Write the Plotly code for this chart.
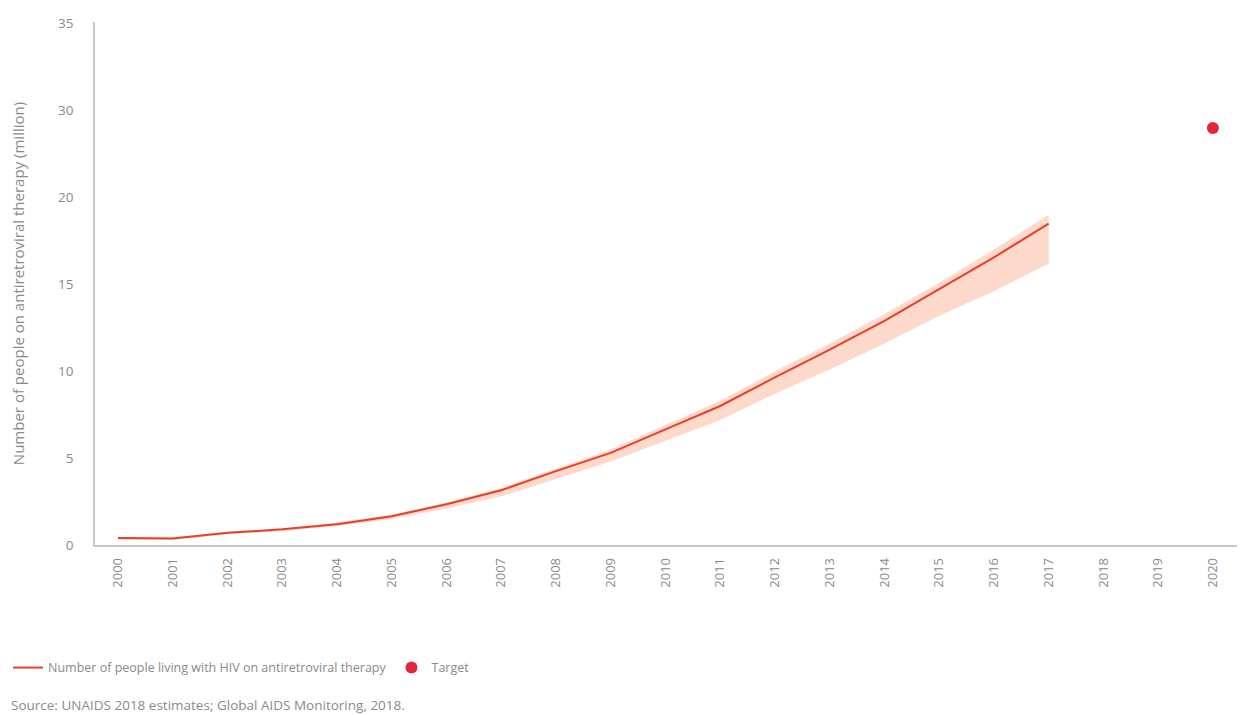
import plotly.graph_objects as go

years = list(range(2000, 2018))
on_art = [0.4, 0.38, 0.7, 0.9, 1.2, 1.65, 2.35, 3.15, 4.25, 5.3, 6.65, 8.0, 9.65, 11.25, 12.9, 14.7, 16.55, 18.5]
art_lower = [0.3, 0.3, 0.6, 0.8, 1.1, 1.5, 2.1, 2.8, 3.8, 4.8, 6.0, 7.2, 8.7, 10.1, 11.6, 13.2, 14.6, 16.2]
art_upper = [0.45, 0.45, 0.75, 0.95, 1.3, 1.75, 2.45, 3.3, 4.4, 5.5, 6.9, 8.3, 10.0, 11.6, 13.3, 15.1, 17.0, 19.0]
target_year = [2020]
target_value = [24.0]
x_ticks = [str(y) for y in range(2000, 2021)]
y_tickvals = [0, 5, 10, 15, 20, 25, 30]
y_ticktext = ["0", "5", "10", "15", "20", "30", "35"]

FONT = "Open Sans"
GREY = "#8a8a8a"

fig = go.Figure()
fig.add_trace(go.Scatter(x=years, y=art_upper, mode="lines", line=dict(width=0),
                         showlegend=False, hoverinfo="skip"))
fig.add_trace(go.Scatter(x=years, y=art_lower, mode="lines", line=dict(width=0),
                         fill="tonexty", fillcolor="rgba(248,165,130,0.42)",
                         showlegend=False, hoverinfo="skip"))
fig.add_trace(go.Scatter(x=years, y=on_art, mode="lines",
                         line=dict(color="#e5412a", width=2),
                         name="Number of people living with HIV on antiretroviral therapy"))
fig.add_trace(go.Scatter(x=target_year, y=target_value, mode="markers",
                         marker=dict(color="#e0283a", size=12),
                         name="Target"))

fig.update_layout(
    width=1248, height=715,
    margin=dict(l=87, r=19, t=14, b=178),
    paper_bgcolor="white", plot_bgcolor="white",
    font=dict(family=FONT, color=GREY, size=12),
    xaxis=dict(range=[1999.58, 2020.44], tickmode="array",
               tickvals=list(range(2000, 2021)), ticktext=x_ticks,
               tickangle=-90, showgrid=False, zeroline=False,
               showline=True, linecolor="#c8c8c8", linewidth=1.5,
               ticks="", ticklabelstandoff=6, automargin=False,
               tickfont=dict(size=13, color=GREY)),
    yaxis=dict(range=[0, 30.1], tickmode="array", tickvals=y_tickvals,
               ticktext=y_ticktext, showgrid=False, zeroline=False,
               showline=True, linecolor="#c8c8c8", linewidth=1.5,
               ticks="", ticklabelstandoff=17, automargin=False,
               tickfont=dict(size=13.5, color=GREY),
               title=dict(text="Number of people on antiretroviral therapy (million)",
                          font=dict(size=15, color=GREY), standoff=36)),
    legend=dict(orientation="h", xref="container", yref="container",
                x=0.0, y=0.077, xanchor="left", yanchor="middle",
                font=dict(size=12.5, color=GREY), itemwidth=30, traceorder="normal",
                bgcolor="rgba(0,0,0,0)"),
    annotations=[dict(text="Source: UNAIDS 2018 estimates; Global AIDS Monitoring, 2018.",
                      xref="paper", yref="paper", x=-0.075, y=-0.306,
                      xanchor="left", yanchor="middle", showarrow=False,
                      font=dict(size=13.5, color=GREY))],
)

fig.write_html("out.html")
